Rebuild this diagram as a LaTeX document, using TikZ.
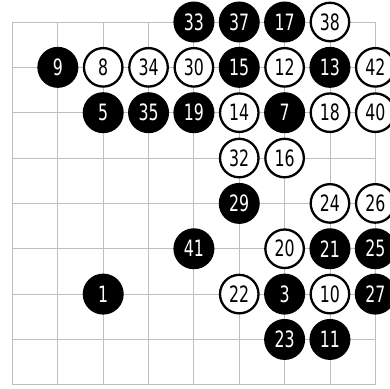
\documentclass[tikz,border=0pt]{standalone}
\usepackage{fontspec}
\newfontfamily\stonefont[FakeStretch=0.7]{DejaVu Sans}
\usepackage{xcolor}

\begin{document}
\begin{tikzpicture}[
  x=45.35pt, y=-45.35pt,
  gridline/.style={draw=black!25, line width=0.9pt},
  blackstone/.style={circle, fill=black, text=white, minimum size=41pt, inner sep=0pt, font=\stonefont\fontsize{22.5}{22.5}\selectfont},
  whitestone/.style={circle, draw=black, line width=2.3pt, fill=white, text=black, minimum size=38.5pt, inner sep=0pt, font=\stonefont\fontsize{22.5}{22.5}\selectfont}
]
% Picture frame (reference margins)
\useasboundingbox (-0.2756,-0.4851) rectangle (8.3241,8.0706);
\clip (-0.2756,-0.4851) rectangle (8.3241,8.0706);

% Board lines
\foreach \i in {0,...,8}{
  \draw[gridline] (\i,0) -- (\i,8);
  \draw[gridline] (0,\i) -- (8,\i);
}

% Black stones (move/column/row)
\foreach \n/\c/\r in {33/4/0, 37/5/0, 17/6/0, 9/1/1, 15/5/1, 13/7/1,
  5/2/2, 35/3/2, 19/4/2, 7/6/2, 29/5/4, 41/4/5, 21/7/5, 25/8/5,
  1/2/6, 3/6/6, 27/8/6, 23/6/7, 11/7/7}
  \node[blackstone] (s\n) at (\c,\r) {\n};

% White stones (move/column/row)
\foreach \n/\c/\r in {38/7/0, 8/2/1, 34/3/1, 30/4/1, 12/6/1, 42/8/1,
  14/5/2, 18/7/2, 40/8/2, 32/5/3, 16/6/3, 24/7/4, 26/8/4,
  20/6/5, 22/5/6, 10/7/6}
  \node[whitestone] (s\n) at (\c,\r) {\n};
\end{tikzpicture}
\end{document}
